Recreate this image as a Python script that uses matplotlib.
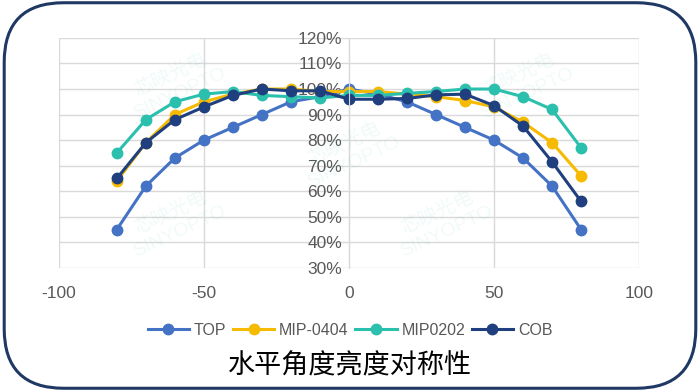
import matplotlib.pyplot as plt
from matplotlib.patches import FancyBboxPatch
from matplotlib.ticker import PercentFormatter

plt.rcParams['font.family'] = ['Liberation Sans', 'Noto Sans CJK SC', 'DejaVu Sans']
plt.rcParams['axes.unicode_minus'] = False

angles = [-80, -70, -60, -50, -40, -30, -20, -10, 0, 10, 20, 30, 40, 50, 60, 70, 80]
top = [45, 62, 73, 80, 85, 90, 95, 97, 100, 98, 95, 90, 85, 80, 73, 62, 45]
mip0404 = [64, 79, 90, 95, 98, 100, 100, 99, 99, 99, 98, 97, 95.5, 93, 87, 79, 66]
mip0202 = [75, 88, 95, 98, 99, 97.5, 97, 96.5, 97.5, 97.5, 98.3, 99, 100, 100, 97, 92, 77]
cob = [65, 79, 88, 93, 97.5, 100, 99.3, 99.3, 96, 96, 96.3, 97.7, 98, 93.5, 85.5, 71.5, 56]

names = ['TOP', 'MIP-0404', 'MIP0202', 'COB']
colors = ['#4472C4', '#F6BA00', '#2BBFAD', '#1F3F7F']

fig = plt.figure(figsize=(7, 3.91), dpi=100)
ax = fig.add_axes([0.084, 0.315, 0.829, 0.588])

for vals, name, c in zip([top, mip0404, mip0202, cob], names, colors):
    ax.plot(angles, vals, color=c, lw=2.2, marker='o', ms=7.5, label=name)

ax.set_xlim(-100, 100)
ax.set_ylim(30, 120)
ax.set_xticks([-100, -50, 0, 50, 100])
ax.set_yticks(range(30, 121, 10))
ax.yaxis.set_major_formatter(PercentFormatter(decimals=0))
ax.grid(True, color='#d9d9d9', lw=1)
ax.set_axisbelow(True)
for s in ['top', 'right', 'bottom']:
    ax.spines[s].set_visible(False)
ax.spines['left'].set_position(('data', 0))
ax.spines['left'].set_color('#d9d9d9')
ax.tick_params(length=0, labelsize=12.5, colors='#595959')
ax.tick_params(axis='x', pad=13)
ax.tick_params(axis='y', pad=5)

# faint watermark
for (x, y) in [(0.2, 0.8), (0.2, 0.2), (0.66, 0.2), (0.8, 0.8), (0.5, 0.5)]:
    fig.text(x, y, '芯映光电\nSINYOPTO', color='#2BBFAD', alpha=0.07, fontsize=14,
             rotation=25, ha='center', va='center', transform=ax.transAxes)

fig.legend(loc='center', bbox_to_anchor=(0.5, 0.155), ncol=4, frameon=False,
           fontsize=11.5, labelcolor='#595959', handlelength=2.6, handletextpad=0.3,
           columnspacing=0.4)
fig.text(0.5, 0.065, '水平角度亮度对称性', ha='center', va='center', fontsize=19.5,
         color='black', family=['Noto Sans CJK SC', 'DejaVu Sans'])

frame = FancyBboxPatch((0.006, 0.007), 0.988, 0.986, boxstyle='round,pad=0,rounding_size=0.085',
                       mutation_aspect=700 / 391, transform=fig.transFigure,
                       fill=False, ec='#1F3864', lw=2.2)
fig.patches.append(frame)

fig.savefig('out.png', dpi=100)
